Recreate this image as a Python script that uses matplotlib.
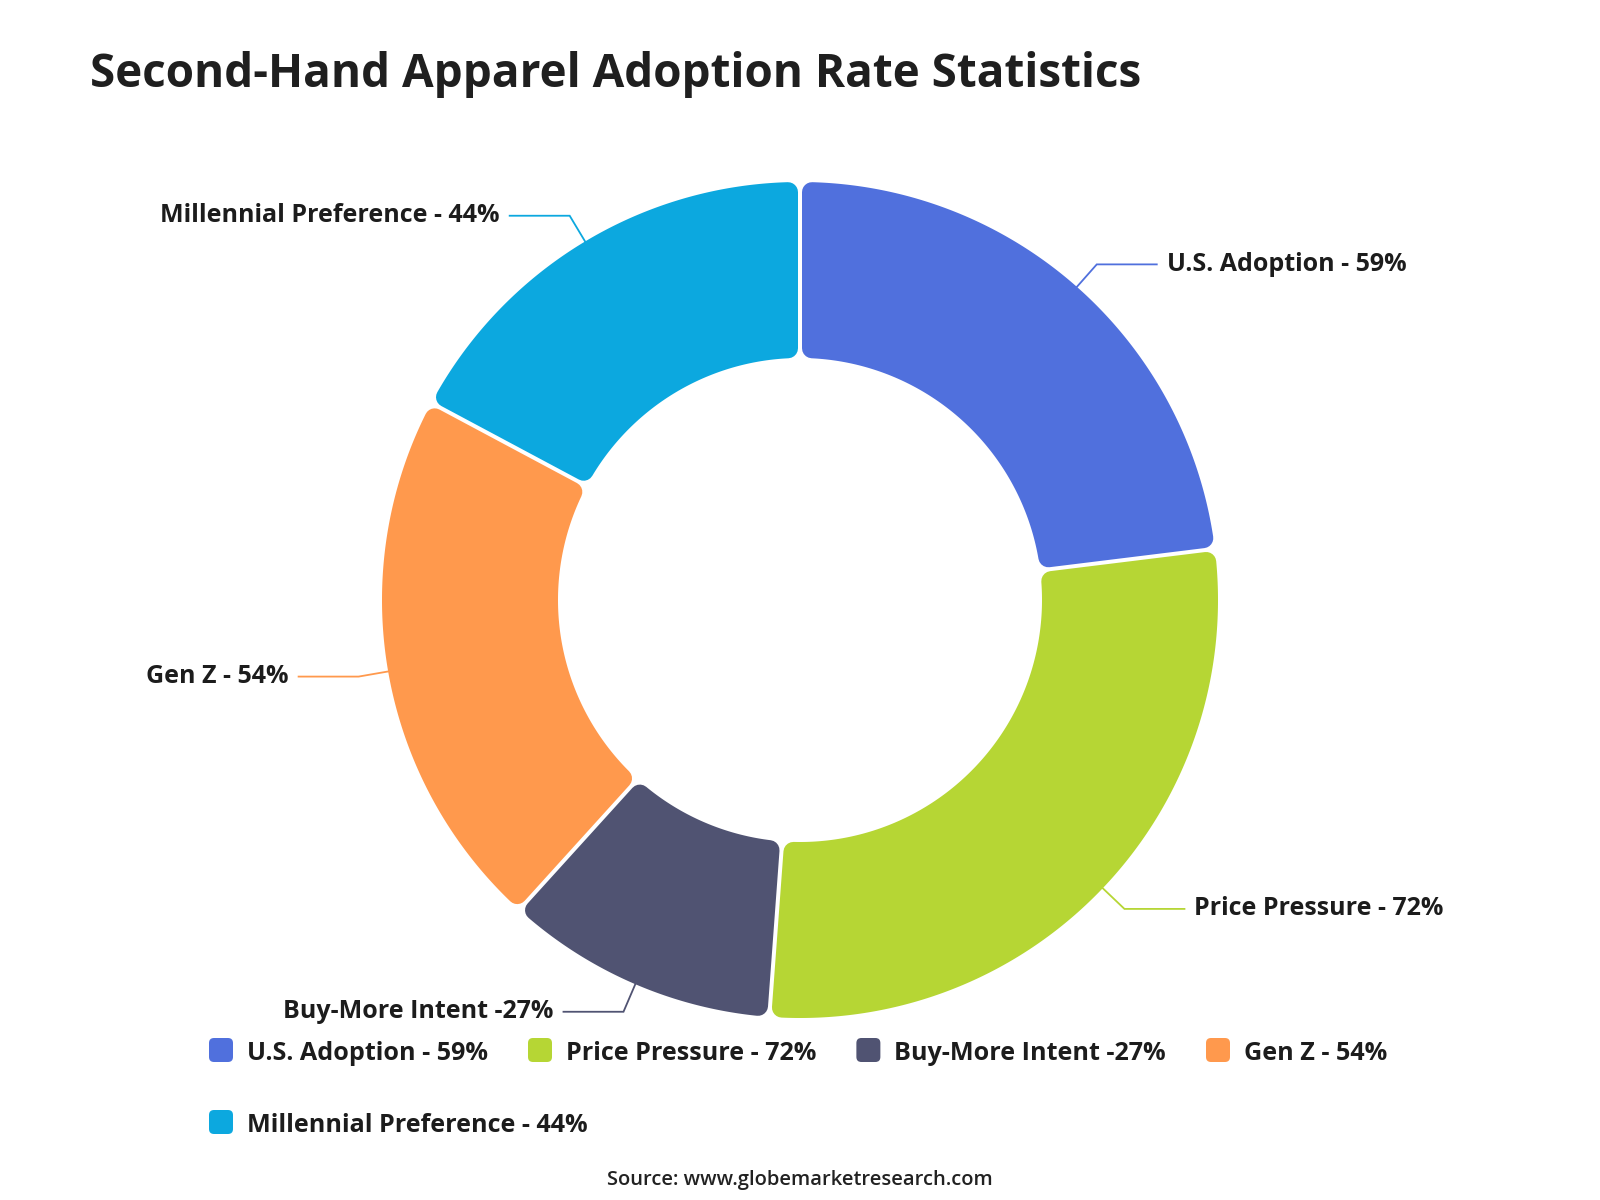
import numpy as np
import matplotlib
matplotlib.use("Agg")
import matplotlib.pyplot as plt
from matplotlib.patches import Polygon, FancyBboxPatch

# ---- data ----
categories = ["U.S. Adoption", "Price Pressure", "Buy-More Intent", "Gen Z", "Millennial Preference"]
values = [59, 72, 27, 54, 44]
label_texts = ["U.S. Adoption - 59%", "Price Pressure - 72%", "Buy-More Intent -27%",
               "Gen Z - 54%", "Millennial Preference - 44%"]
colors = ["#5070dd", "#b6d634", "#505372", "#ff994d", "#0ca8df"]
title = "Second-Hand Apparel Adoption Rate Statistics"
source = "Source: www.globemarketresearch.com"

FONT = ["Open Sans", "DejaVu Sans"]
TXT = "#1c1c1c"

W, H = 1600, 1200
fig = plt.figure(figsize=(16, 12), dpi=100)
ax = fig.add_axes([0, 0, 1, 1])
CX, CY = 800, 600
R_OUT, R_IN = 418, 242

wedges, _ = ax.pie(values, colors=colors, startangle=90, counterclock=False,
                   radius=R_OUT, center=(CX, CY),
                   wedgeprops=dict(width=R_OUT - R_IN))
ax.set_xlim(0, W)
ax.set_ylim(0, H)
ax.set_aspect("equal")
ax.axis("off")

# rounded-corner wedges with small gaps
CORNER = 10.0
GAP = 4.0
s = CORNER + GAP / 2
pt_per_px = 72.0 / fig.dpi
for w, c in zip(wedges, colors):
    th1, th2 = w.theta1, w.theta2
    r = w.r
    rin = w.r - w.width
    cx, cy = w.center
    ro = r - CORNER
    ri = rin + CORNER
    ao1 = th1 + np.degrees(np.arcsin(s / ro))
    ao2 = th2 - np.degrees(np.arcsin(s / ro))
    ai1 = th1 + np.degrees(np.arcsin(s / ri))
    ai2 = th2 - np.degrees(np.arcsin(s / ri))
    to = np.radians(np.linspace(ao1, ao2, 200))
    ti = np.radians(np.linspace(ai2, ai1, 200))
    xs = np.concatenate([cx + ro * np.cos(to), cx + ri * np.cos(ti)])
    ys = np.concatenate([cy + ro * np.sin(to), cy + ri * np.sin(ti)])
    p = Polygon(np.column_stack([xs, ys]), closed=True, facecolor=c, edgecolor=c,
                linewidth=2 * CORNER * pt_per_px, joinstyle="round", zorder=3)
    ax.add_patch(p)
    w.set_visible(False)

# leader lines and labels
ELBOW = 30
HLEN = 60
for w, c, lab in zip(wedges, colors, label_texts):
    mid = np.radians((w.theta1 + w.theta2) / 2)
    cx, cy = w.center
    x0, y0 = cx + w.r * np.cos(mid), cy + w.r * np.sin(mid)
    x1, y1 = cx + (w.r + ELBOW) * np.cos(mid), cy + (w.r + ELBOW) * np.sin(mid)
    side = 1 if np.cos(mid) >= 0 else -1
    x2 = x1 + side * HLEN
    ax.plot([x0, x1, x2], [y0, y1, y1], color=c, lw=1.3, zorder=2,
            solid_joinstyle="miter")
    ax.text(x2 + side * 10, y1 + 3, lab, ha="left" if side > 0 else "right",
            va="center_baseline", fontsize=18, fontweight="bold", family=FONT, color=TXT)

# title
ax.text(90, H - 69, title, ha="left", va="center_baseline", fontsize=33,
        fontweight="bold", family=FONT, color="#1f1f1f")

# flow legend
renderer = fig.canvas.get_renderer()
lx0 = 209
lx = lx0
ly = H - 1050
ICON = 24
TXT_OFF = 38
ITEM_GAP = 40
MAXX = 1420
for c, lab in zip(colors, label_texts):
    t = ax.text(0, 0, lab, fontsize=18.1, fontweight="bold", family=FONT, color=TXT,
                ha="left", va="center_baseline")
    tw = t.get_window_extent(renderer).width
    item_w = TXT_OFF + tw
    if lx + item_w > MAXX and lx != lx0:
        lx = lx0
        ly -= 72
    icon = FancyBboxPatch((lx, ly - ICON / 2), ICON, ICON,
                          boxstyle="round,pad=0,rounding_size=5",
                          facecolor=c, edgecolor="none")
    ax.add_patch(icon)
    t.set_position((lx + TXT_OFF, ly))
    lx += item_w + ITEM_GAP

# source
ax.text(800, H - 1177, source, ha="center", va="center_baseline", fontsize=14.5,
        fontweight="semibold", family=FONT, color="#222222")

fig.savefig("out.png", dpi=100)
